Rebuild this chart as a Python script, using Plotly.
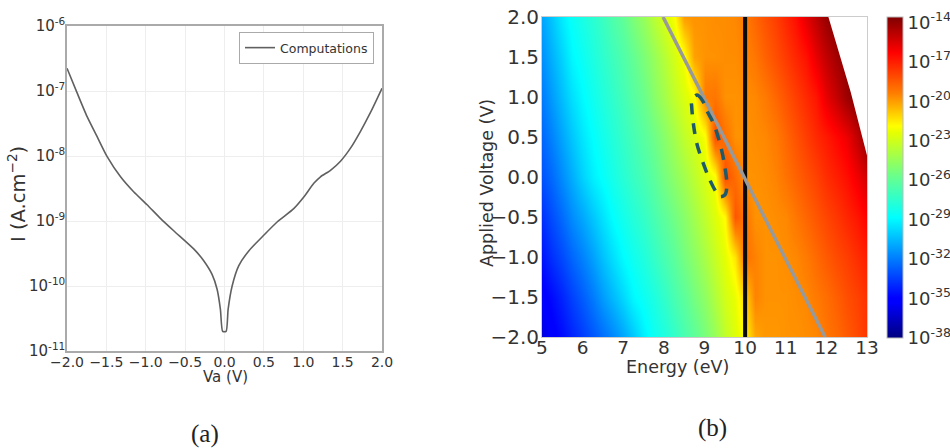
import plotly.graph_objects as go

# Panel (a)
va = [-2.0,-1.873,-1.746,-1.619,-1.49,-1.32,-1.154,-0.983,-0.814,-0.645,-0.391,-0.264,-0.158,-0.094,-0.052,-0.023,0.02,0.046,0.097,0.18,0.308,0.498,0.668,0.879,1.007,1.134,1.219,1.346,1.473,1.60,1.727,1.854,2.0]
current = [2.24e-7,9.44e-8,4.07e-8,2.0e-8,9.77e-9,4.79e-9,2.82e-9,1.78e-9,1.10e-9,7.08e-10,3.72e-10,2.45e-10,1.51e-10,8.91e-11,4.37e-11,2.0e-11,2.0e-11,4.37e-11,1.0e-10,2.04e-10,3.47e-10,6.03e-10,9.66e-10,1.55e-9,2.34e-9,3.80e-9,4.79e-9,6.03e-9,8.32e-9,1.32e-8,2.40e-8,4.68e-8,1.10e-7]
a_xticks = [-2.0,-1.5,-1.0,-0.5,0.0,0.5,1.0,1.5,2.0]
a_yticks = [1e-6,1e-7,1e-8,1e-9,1e-10,1e-11]
a_ylabels = ["10<sup>-6</sup>","10<sup>-7</sup>","10<sup>-8</sup>","10<sup>-9</sup>","10<sup>-10</sup>","10<sup>-11</sup>"]

# Panel (b): log10 of the mapped quantity
energy = [5,5.25,5.5,5.75,6,6.25,6.5,6.75,7,7.25,7.5,7.75,8,8.25,8.5,8.75,9,9.25,9.5,9.75,10,10.25,10.5,10.75,11,11.25,11.5,11.75,12,12.25,12.5,12.75,13]
voltage = [-2,-1.5,-1,-0.5,0,0.5,1,1.5,2]
log_z = [
 [-36,-35.2,-34.7,-34.1,-33.5,-32.9,-32.3,-31.7,-31,-30.2,-29.2,-28.5,-28,-27.4,-26.7,-26.1,-25.3,-24.5,-23.4,-22.6,-21.8,-20.2,-19.9,-19.9,-19.8,-19.8,-19.7,-19.6,-19.2,-18.9,-18.5,-18.1,-17.6],
 [-35.2,-34.7,-34.1,-33.4,-32.7,-32,-31.2,-30.5,-29.8,-29,-28.5,-28,-27.4,-26.7,-26.1,-25.4,-24.7,-23.8,-22.9,-22.3,-21,-19.5,-19.8,-19.8,-19.8,-19.7,-19.6,-19.3,-19,-18.6,-18.2,-17.9,-17.5],
 [-34.5,-33.8,-33.2,-32.5,-31.8,-31.1,-30.3,-29.6,-28.9,-28.4,-27.9,-27.3,-26.7,-26.1,-25.4,-24.8,-24,-23.2,-22.4,-21.4,-19,-19.5,-19.8,-19.8,-19.7,-19.6,-19.3,-18.9,-18.5,-18.1,-17.8,-17.4,-17],
 [-33.8,-33.1,-32.4,-31.6,-30.9,-30.2,-29.5,-28.8,-28.3,-27.8,-27.3,-26.7,-26.1,-25.5,-24.9,-24.2,-23.4,-22.6,-21.8,-18.4,-19.2,-19.8,-19.8,-19.7,-19.6,-19.2,-18.8,-18.4,-18,-17.6,-17.2,-16.8,-16.3],
 [-33,-32.4,-31.6,-30.8,-29.9,-29.2,-28.7,-28.2,-27.7,-27.2,-26.7,-26.1,-25.4,-24.8,-24.2,-23.5,-22.7,-22,-18.2,-19,-19.8,-19.8,-19.7,-19.5,-19.1,-18.7,-18.3,-17.9,-17.4,-17,-16.6,-16,-15.3],
 [-32.5,-31.8,-31,-30.2,-29.4,-28.8,-28.3,-27.8,-27.3,-26.8,-26.2,-25.6,-24.9,-24.2,-23.4,-22.8,-22,-18.2,-19.1,-19.8,-19.8,-19.7,-19.6,-19.3,-18.8,-18.3,-17.8,-17.3,-16.9,-16.4,-15.9,-15,-13.8],
 [-32,-31.2,-30.4,-29.6,-28.9,-28.4,-27.9,-27.4,-26.9,-26.3,-25.7,-24.9,-24.2,-23.4,-22.7,-22,-19.3,-19.2,-19.8,-19.8,-19.7,-19.6,-19.3,-18.8,-18.3,-17.8,-17.3,-16.8,-15.8,-15,-14.2,-13.6,-13.4],
 [-31.5,-30.7,-29.9,-29,-28.5,-28,-27.5,-27,-26.5,-25.9,-25.2,-24.5,-23.7,-22.9,-22,-20.1,-19.8,-19.8,-19.7,-19.7,-19.5,-19.2,-18.7,-18.2,-17.7,-17.2,-16.7,-15.8,-15,-14.3,-13.8,-13.4,-13.4],
 [-31,-30.2,-29.3,-28.6,-28.1,-27.6,-27.1,-26.5,-26,-25.2,-24.5,-23.6,-22.8,-22,-20,-19.8,-19.8,-19.7,-19.7,-19.6,-19.3,-18.8,-18.3,-17.8,-17.2,-16.6,-15.7,-14.9,-14.1,-13.6,-13.4,-13.4,-13.4],
]
blank_e = [12.05,12.6,13,13,12.05]
blank_v = [2,1.06,0.27,2,2]
grey_e = [7.98,11.97]
grey_v = [2,-2]
black_e = [10.0,10.0]
black_v = [2,-2]
ellipse_e = [8.685,8.82,8.97,9.05,9.22,9.38,9.50,9.55,9.50,9.38,9.30,9.135,8.97,8.81,8.725,8.685,8.685]
ellipse_v = [0.9625,1.025,0.94,0.8375,0.67,0.42,0.13,-0.12,-0.225,-0.245,-0.20,-0.04,0.17,0.42,0.67,0.88,0.9625]
b_xticks = [5,6,7,8,9,10,11,12,13]
b_yticks = [-2.0,-1.5,-1.0,-0.5,0.0,0.5,1.0,1.5,2.0]
cb_ticks = [-38,-35,-32,-29,-26,-23,-20,-17,-14]
cb_labels = ["10<sup>-38</sup>","10<sup>-35</sup>","10<sup>-32</sup>","10<sup>-29</sup>","10<sup>-26</sup>","10<sup>-23</sup>","10<sup>-20</sup>","10<sup>-17</sup>","10<sup>-14</sup>"]

W, H = 950, 448
FONT = "DejaVu Sans"
INK = "#333333"
def fx(p): return p / W
def fy(p): return 1 - p / H
def px_x(a, b): return [fx(a), fx(b)]
def px_y(top, bottom): return [fy(bottom), fy(top)]

jet = [[0,"#00007f"],[0.11,"#0000ff"],[0.125,"#0000ff"],[0.34,"#00dcff"],[0.375,"#00ffff"],[0.5,"#66ff90"],[0.64,"#e6ff00"],[0.66,"#ffff00"],[0.76,"#ff8000"],[0.89,"#ff0000"],[1,"#7f0000"]]

fig = go.Figure()
fig.add_trace(go.Scatter(x=va, y=current, mode="lines", name="Computations",
                         line=dict(color="#606060", width=1.6, shape="spline", smoothing=0.6), xaxis="x", yaxis="y"))
fig.add_trace(go.Contour(x=energy, y=voltage, z=log_z, xaxis="x2", yaxis="y2", showlegend=False,
    colorscale=jet, zmin=-38, zmax=-13.6, autocontour=False,
    contours=dict(start=-38, end=-13, size=1, coloring="heatmap", showlines=False),
    line=dict(width=0), hoverinfo="skip",
    colorbar=dict(x=fx(887), xanchor="left", xref="container", y=fy(338), yanchor="bottom", yref="container",
                  lenmode="pixels", len=321, thicknessmode="pixels", thickness=16,
                  xpad=0, ypad=0, tickmode="array", tickvals=cb_ticks, ticktext=cb_labels,
                  ticks="", ticklabelposition="outside", ticklabeloverflow="allow", outlinecolor="#bbbbbb", outlinewidth=1,
                  tickfont=dict(family=FONT, size=18, color=INK))))
fig.add_trace(go.Scatter(x=blank_e, y=blank_v, mode="lines", fill="toself", fillcolor="white",
                         line=dict(width=0, color="white"), xaxis="x2", yaxis="y2", showlegend=False, hoverinfo="skip"))
fig.add_trace(go.Scatter(x=black_e, y=black_v, mode="lines", line=dict(color="#0a0a0a", width=4),
                         xaxis="x2", yaxis="y2", showlegend=False))
fig.add_trace(go.Scatter(x=grey_e, y=grey_v, mode="lines", line=dict(color="#999999", width=3.5),
                         xaxis="x2", yaxis="y2", showlegend=False))
fig.add_trace(go.Scatter(x=ellipse_e, y=ellipse_v, mode="lines", line=dict(color="#1f5a6a", width=3.5, dash="11px,9px", shape="spline"),
                         xaxis="x2", yaxis="y2", showlegend=False))

def note(text, x, y, size, family=FONT, angle=0, color=INK):
    return dict(text=text, x=fx(x), y=fy(y), xref="paper", yref="paper", xanchor="center", yanchor="middle",
                showarrow=False, textangle=angle, font=dict(family=family, size=size, color=color))

fig.update_layout(
    width=W, height=H, margin=dict(l=0, r=0, t=0, b=0, autoexpand=False), autosize=False,
    paper_bgcolor="white", plot_bgcolor="white", font=dict(family=FONT, color=INK),
    xaxis=dict(domain=px_x(67, 382), range=[-2, 2], tickmode="array", tickvals=a_xticks, tickformat=".1f", automargin=False,
               showline=True, mirror=True, linecolor="#aaaaaa", linewidth=1.5, gridcolor="#eeeeee", zeroline=False,
               ticks="", tickfont=dict(size=14), ticklabelstandoff=-3),
    yaxis=dict(domain=px_y(26, 351), type="log", range=[-11, -6], tickmode="array", tickvals=a_yticks, ticktext=a_ylabels, automargin=False,
               showline=True, mirror=True, linecolor="#aaaaaa", linewidth=1.5, gridcolor="#eeeeee", zeroline=False,
               ticks="", tickfont=dict(size=15), ticklabelstandoff=-3),
    xaxis2=dict(domain=px_x(542, 867), range=[5, 13], anchor="y2", tickmode="array", tickvals=b_xticks, automargin=False,
                showline=True, mirror=True, linecolor="#cccccc", linewidth=1, showgrid=False, zeroline=False,
                ticks="", tickfont=dict(size=18.5), ticklabelstandoff=-6),
    yaxis2=dict(domain=px_y(17, 337), range=[-2, 2], anchor="x2", tickmode="array", tickvals=b_yticks, tickformat=".1f", automargin=False,
                showline=True, mirror=True, linecolor="#cccccc", linewidth=1, showgrid=False, zeroline=False,
                ticks="", tickfont=dict(size=20), ticklabelstandoff=-2, ticklabeloverflow="allow"),
    legend=dict(x=fx(239), y=fy(32), xanchor="left", yanchor="top", bordercolor="#aaaaaa", borderwidth=1,
                bgcolor="white", font=dict(size=12.5, color=INK), itemwidth=30),
    annotations=[
        note("Va (V)", 225, 377, 15),
        note("I (A.cm<sup>−2</sup>)", 17, 194, 19.5, angle=-90),
        note("Energy (eV)", 677, 367, 17.5),
        note("Applied Voltage (V)", 487, 183, 17.5, angle=-90),
        note("(a)", 205, 434, 25, family="Liberation Serif", color="#222222"),
        note("(b)", 712, 428, 25, family="Liberation Serif", color="#222222"),
    ],
)
# the default page body has an 8 px margin; drop it so the figure fills the window
fig.write_html("out.html", config={"displayModeBar": False},
               post_script="document.body.style.margin='0';")
